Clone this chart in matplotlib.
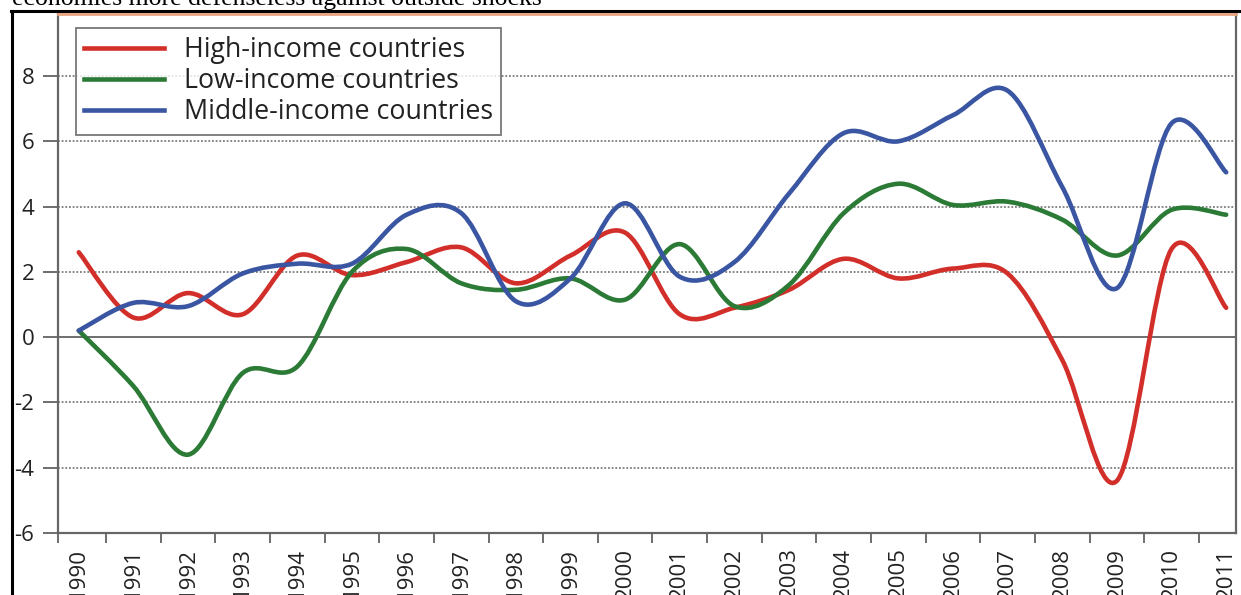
import matplotlib
matplotlib.use("Agg")
import matplotlib.pyplot as plt
from matplotlib.path import Path
from matplotlib.patches import PathPatch
from matplotlib.lines import Line2D
import numpy as np

# GDP growth by income group, 1990-2011
years = list(range(1990, 2012))
high_income = [2.6, 0.6, 1.35, 0.7, 2.5, 1.9, 2.3, 2.75, 1.65, 2.5, 3.2, 0.7,
               0.9, 1.45, 2.4, 1.8, 2.1, 1.95, -0.7, -4.4, 2.7, 0.9]
low_income = [0.2, -1.5, -3.6, -1.1, -0.9, 2.0, 2.7, 1.65, 1.45, 1.8, 1.15, 2.85,
              0.95, 1.6, 3.8, 4.7, 4.05, 4.15, 3.6, 2.5, 3.9, 3.75]
middle_income = [0.2, 1.05, 0.95, 1.95, 2.25, 2.25, 3.75, 3.8, 1.1, 1.8, 4.1, 1.85,
                 2.3, 4.4, 6.25, 6.0, 6.8, 7.55, 4.6, 1.5, 6.55, 5.05]

series = [("High-income countries", high_income, "#d32f2a"),
          ("Low-income countries", low_income, "#2b7a35"),
          ("Middle-income countries", middle_income, "#3a56a3")]

FONT = "Open Sans"


def smooth_path(xs, ys):
    # excel-like smoothed line: cubic bezier through every point
    pts = np.column_stack([xs, ys]).astype(float)
    n = len(pts)
    verts = [pts[0]]
    codes = [Path.MOVETO]
    for i in range(n - 1):
        p_prev = pts[i - 1] if i > 0 else pts[i]
        p_next2 = pts[i + 2] if i + 2 < n else pts[i + 1]
        c1 = pts[i] + (pts[i + 1] - p_prev) / 6.0
        c2 = pts[i + 1] - (p_next2 - pts[i]) / 6.0
        verts += [c1, c2, pts[i + 1]]
        codes += [Path.CURVE4] * 3
    return Path(verts, codes)


fig = plt.figure(figsize=(12.41, 5.95), dpi=100)
ax = fig.add_axes([58 / 1241, 1 - 533 / 595, (1236 - 58) / 1241, (533 - 14) / 595])

xpos = np.arange(len(years))

# grid lines
for v in [-4, -2, 2, 4, 6, 8]:
    ax.axhline(v, color="#666666", lw=1.1, ls=(0, (1.2, 1.2)), zorder=1)
ax.axhline(0, color="#6e6e6e", lw=1.4, zorder=1)

handles = []
for name, vals, col in series:
    patch = PathPatch(smooth_path(xpos, vals), fill=False, edgecolor=col, lw=3.3,
                      capstyle="round", joinstyle="round", zorder=3)
    ax.add_patch(patch)
    handles.append(Line2D([], [], color=col, lw=3.3, label=name))

ax.set_xlim(-0.38, 21.18)
ax.set_ylim(-6, 9.9)

ax.set_yticks(range(-6, 9, 2))
ax.set_yticklabels([str(v) for v in range(-6, 9, 2)], fontsize=16, family=FONT,
                   color="#222222")
ax.tick_params(axis="y", direction="out", length=11, width=1.2, color="#555555", pad=6)

ax.set_xticks(xpos)
ax.set_xticklabels([str(y) for y in years], rotation=90, fontsize=16, family=FONT,
                   color="#222222", va="top")
ax.tick_params(axis="x", which="major", length=0, pad=10.5)
ax.set_xticks(list(xpos[:-1] + 0.5) + [-0.38], minor=True)
ax.tick_params(axis="x", which="minor", direction="out", length=7.5, width=1.2,
               color="#555555")

for side in ["left", "bottom", "right"]:
    ax.spines[side].set_color("#666666")
    ax.spines[side].set_linewidth(1.6)
ax.spines["top"].set_color("#e8a37f")
ax.spines["top"].set_linewidth(2)

leg = ax.legend(handles=handles, loc="upper left", bbox_to_anchor=(0.015, 0.973),
                prop={"family": FONT, "size": 19.3}, frameon=True, fancybox=False,
                handlelength=3.0, handletextpad=0.75, borderpad=0.3, labelspacing=0.12,
                borderaxespad=0)
leg.get_frame().set_edgecolor("#555555")
leg.get_frame().set_linewidth(1.3)
for t in leg.get_texts():
    t.set_color("#222222")

# screenshot frame and the cut-off line of text above it
fig.add_artist(Line2D([11 / 1241, 1], [1 - 11 / 595, 1 - 11 / 595], color="black",
                      lw=2.2, transform=fig.transFigure))
fig.add_artist(Line2D([11.5 / 1241, 11.5 / 1241], [0, 1 - 11 / 595], color="black",
                      lw=2.2, transform=fig.transFigure))
fig.text(12 / 1241, 1 - 5 / 595, "economies more defenseless against outside shocks",
         family="Liberation Serif", fontsize=18.5, va="baseline", ha="left")

fig.savefig("out.png", dpi=100)
